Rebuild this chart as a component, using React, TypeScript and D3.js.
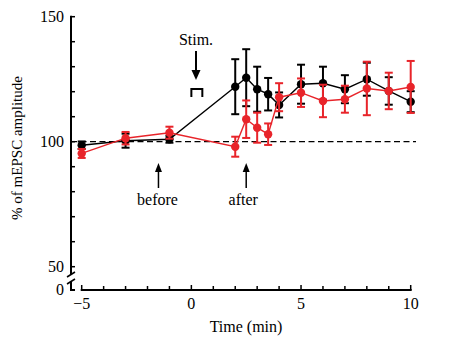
import React from "react";
import * as d3 from "d3";

const times = [-5, -3, -1, 2, 2.5, 3, 3.5, 4, 5, 6, 7, 8, 9, 10];
const blackMean = [98.6, 100.4, 101, 122, 125.6, 121, 119, 114.7, 123, 123.4, 121, 125, 120.3, 116];
const blackErr = [1.5, 2.8, 1.4, 11, 11.4, 9, 6.5, 5, 7.8, 6.6, 5.6, 6.6, 5.5, 4.2];
const redMean = [95.3, 101.4, 103.6, 98, 109, 105.6, 103, 117.8, 119.6, 116.3, 117, 121.3, 120.3, 121.9];
const redErr = [1.8, 2.5, 2.4, 4, 7.5, 6, 4.3, 5.6, 5.7, 6.5, 5.4, 10.7, 7.3, 10.4];
const yTicks = [50, 60, 70, 80, 90, 100, 110, 120, 130, 140, 150];
const yLabels = [50, 100, 150];
const xTicks = [-5, -4, -3, -2, -1, 0, 1, 2, 3, 4, 5, 6, 7, 8, 9, 10];
const xLabels = [-5, 0, 5, 10];

const RED = "#e8242a";
const FONT = "'Liberation Serif', 'Times New Roman', serif";

type Series = { mean: number[]; err: number[]; color: string };

export default function App() {
  const W = 455, H = 356;
  const x = d3.scaleLinear().domain([-5, 10]).range([81.7, 410.7]);
  const y = d3.scaleLinear().domain([50, 150]).range([266.7, 16.7]);
  const axisX = 71;
  const zeroY = 290;

  const series: Series[] = [
    { mean: blackMean, err: blackErr, color: "#000" },
    { mean: redMean, err: redErr, color: RED },
  ];

  const line = d3
    .line<number>()
    .x((_, i) => x(times[i]))
    .y((d) => y(d));

  const capW = 4;

  return (
    <svg width={W} height={H} style={{ display: "block", position: "absolute", left: 0, top: 0 }}
      fontFamily={FONT}>
      <rect width={W} height={H} fill="#fff" />
      {/* dashed baseline */}
      <line x1={axisX} x2={416} y1={y(100)} y2={y(100)} stroke="#000" strokeWidth={1.3}
        strokeDasharray="6,3.5" />

      {/* y axis */}
      <line x1={axisX} x2={axisX} y1={y(150) - 1} y2={274} stroke="#000" strokeWidth={2} />
      {yTicks.map((t) => (
        <line key={t} x1={axisX} x2={axisX + 4} y1={y(t)} y2={y(t)} stroke="#000" strokeWidth={1.5} />
      ))}
      {/* break */}
      <line x1={67} x2={75} y1={277} y2={272} stroke="#000" strokeWidth={1.5} />
      <line x1={67} x2={75} y1={284} y2={279} stroke="#000" strokeWidth={1.5} />
      <line x1={axisX} x2={axisX} y1={282} y2={zeroY + 1} stroke="#000" strokeWidth={2} />
      <line x1={axisX - 1} x2={axisX + 4} y1={zeroY} y2={zeroY} stroke="#000" strokeWidth={2} />
      {yLabels.map((t) => (
        <text key={t} x={64} y={y(t)} dy="0.35em" textAnchor="end" fontSize={16}>{t}</text>
      ))}
      <text x={64} y={zeroY - 1} dy="0.35em" textAnchor="end" fontSize={16}>0</text>

      {/* x axis */}
      <line x1={x(-5) - 1} x2={x(10) + 1} y1={zeroY} y2={zeroY} stroke="#000" strokeWidth={2} />
      {xTicks.map((t) => (
        <line key={t} x1={x(t)} x2={x(t)} y1={zeroY} y2={zeroY - (t % 5 === 0 ? 5 : 4)} stroke="#000"
          strokeWidth={1.5} />
      ))}
      {xLabels.map((t) => (
        <text key={t} x={x(t)} y={309} textAnchor="middle" fontSize={16}>
          {t < 0 ? "\u2212" + Math.abs(t) : t}
        </text>
      ))}
      <text x={246} y={332} textAnchor="middle" fontSize={16}>Time (min)</text>
      <text transform={`translate(22,148) rotate(-90)`} textAnchor="middle" fontSize={15}>
        % of mEPSC amplitude
      </text>

      {/* annotations */}
      <text x={196} y={45} textAnchor="middle" fontSize={16}>Stim.</text>
      <line x1={196} x2={196} y1={51} y2={72} stroke="#000" strokeWidth={2} />
      <path d="M191.5,70 L200.5,70 L196,80 Z" fill="#000" />
      <path d={`M${x(0)},97 L${x(0)},89 L${x(0.5)},89 L${x(0.5)},97`} fill="none" stroke="#000" strokeWidth={2} />

      <line x1={x(-1.5)} x2={x(-1.5)} y1={188} y2={170} stroke="#000" strokeWidth={1.5} />
      <path d={`M${x(-1.5) - 3.5},172 L${x(-1.5) + 3.5},172 L${x(-1.5)},163 Z`} fill="#000" />
      <text x={x(-1.5) - 1} y={205} textAnchor="middle" fontSize={16}>before</text>

      <line x1={x(2.5)} x2={x(2.5)} y1={188} y2={170} stroke="#000" strokeWidth={1.5} />
      <path d={`M${x(2.5) - 3.5},172 L${x(2.5) + 3.5},172 L${x(2.5)},163 Z`} fill="#000" />
      <text x={x(2.5) - 3} y={205} textAnchor="middle" fontSize={16}>after</text>

      {series.map((s, si) => (
        <g key={si}>
          {times.map((t, i) => {
            const cx = x(t);
            const top = y(s.mean[i] + s.err[i]);
            const bot = y(s.mean[i] - s.err[i]);
            return (
              <g key={i} stroke={s.color} strokeWidth={2}>
                <line x1={cx} x2={cx} y1={top} y2={bot} />
                <line x1={cx - capW} x2={cx + capW} y1={top} y2={top} />
                <line x1={cx - capW} x2={cx + capW} y1={bot} y2={bot} />
              </g>
            );
          })}
          <path d={line(s.mean) || ""} fill="none" stroke={s.color} strokeWidth={1.4} />
          {times.map((t, i) => (
            <circle key={i} cx={x(t)} cy={y(s.mean[i])} r={4.2} fill={s.color} />
          ))}
        </g>
      ))}
    </svg>
  );
}
